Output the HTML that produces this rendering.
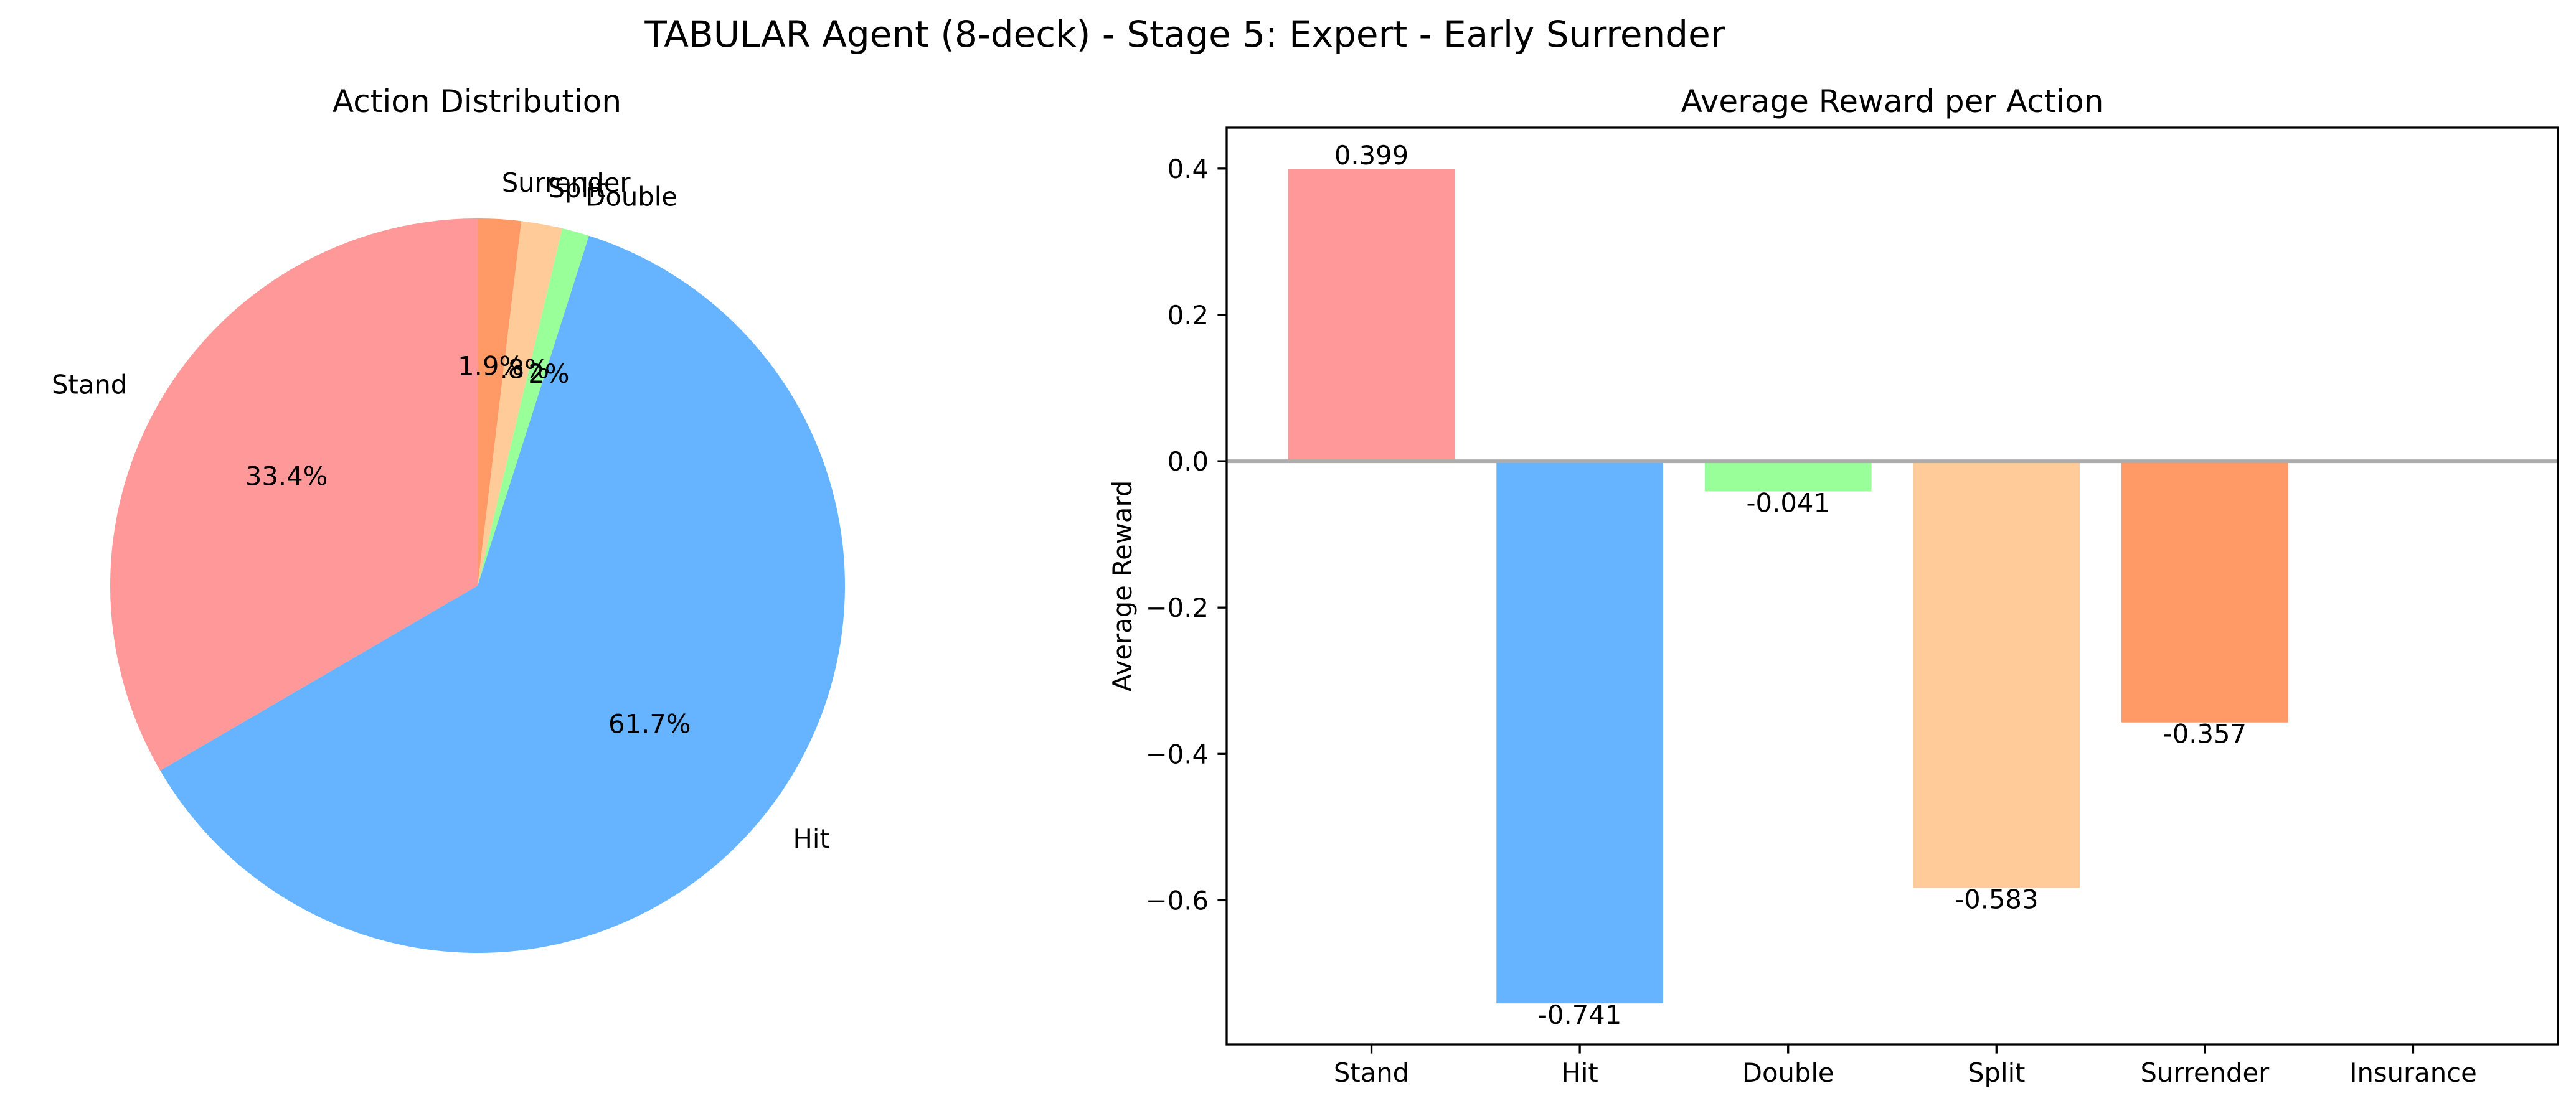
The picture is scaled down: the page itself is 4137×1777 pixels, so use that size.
<!DOCTYPE html>
<html><head><meta charset="utf-8">
<style>
html,body{margin:0;padding:0;background:#fff;}
svg{display:block;font-family:"DejaVu Sans","Liberation Sans",sans-serif;}
</style></head>
<body>
<svg id="fig" width="4137" height="1777" viewBox="0 0 4137 1777" xmlns="http://www.w3.org/2000/svg">
<rect width="4137" height="1777" fill="#fff"/>
<text x="1903" y="75" font-size="58" text-anchor="middle">TABULAR Agent (8-deck) - Stage 5: Expert - Early Surrender</text>
<text x="766" y="180" font-size="50" text-anchor="middle">Action Distribution</text>
<text x="3039" y="180" font-size="50" text-anchor="middle">Average Reward per Action</text>
<g id="pie"></g>
<g id="bars"></g>
</svg>
<script>
const pieLabels = ["Stand","Hit","Double","Split","Surrender"];
const pieValues = [33.4, 61.7, 1.2, 1.8, 1.9];
const pieColors = ["#ff9999","#66b3ff","#99ff99","#ffcc99","#ff9966"];

const barCategories = ["Stand","Hit","Double","Split","Surrender","Insurance"];
const barValues = [0.399, -0.741, -0.041, -0.583, -0.357, 0];
const barValueLabels = ["0.399","-0.741","-0.041","-0.583","-0.357",""];
const barColors = ["#ff9999","#66b3ff","#99ff99","#ffcc99","#ff9966","#c2c2f0"];
const yTicks = [-0.6,-0.4,-0.2,0.0,0.2,0.4];
const yTickLabels = ["\u22120.6","\u22120.4","\u22120.2","0.0","0.2","0.4"];

const NS="http://www.w3.org/2000/svg";
function mk(tag, attrs, parent){const e=document.createElementNS(NS,tag);for(const k in attrs)e.setAttribute(k,attrs[k]);parent.appendChild(e);return e;}

// Pie
const pie=document.getElementById('pie');
const cx=767, cy=941, R=590;
const total=pieValues.reduce((a,b)=>a+b,0);
let ang=90;
pieValues.forEach((v,i)=>{
  const span=v/total*360;
  const a0=ang*Math.PI/180, a1=(ang+span)*Math.PI/180;
  const x0=cx+R*Math.cos(a0), y0=cy-R*Math.sin(a0);
  const x1=cx+R*Math.cos(a1), y1=cy-R*Math.sin(a1);
  const large=span>180?1:0;
  const p=mk('path',{d:`M${cx},${cy} L${x0},${y0} A${R},${R} 0 ${large} 0 ${x1},${y1} Z`,fill:pieColors[i]},pie);
  
  
  const mid=(ang+span/2)*Math.PI/180;
  const lx=cx+1.1*R*Math.cos(mid), ly=cy-1.1*R*Math.sin(mid);
  const t=mk('text',{x:lx,y:ly+15,'font-size':41.7,'text-anchor':Math.cos(mid)>=0?'start':'end'},pie);
  t.textContent=pieLabels[i];
  
  
  const px=cx+0.6*R*Math.cos(mid), py=cy-0.6*R*Math.sin(mid);
  const pt=mk('text',{x:px,y:py+15,'font-size':41.7,'text-anchor':'middle'},pie);
  pt.textContent=v.toFixed(1)+'%';
  
  
  ang+=span;
});

// Bars
const bars=document.getElementById('bars');
const L=1970, Rt=4108, T=205, B=1678;
const xmin=-0.695, xmax=barCategories.length-1+0.695, ymin=-0.797, ymax=0.456;
const X=v=>L+(v-xmin)/(xmax-xmin)*(Rt-L);
const Y=v=>T+(ymax-v)/(ymax-ymin)*(B-T);
const bw=0.8;
barValues.forEach((v,i)=>{
  const y0=Y(Math.max(v,0)), y1=Y(Math.min(v,0));
  const r=mk('rect',{x:X(i-bw/2),y:y0,width:X(i+bw/2)-X(i-bw/2),height:Math.max(0,y1-y0),fill:barColors[i]},bars);
  
  
  if(barValueLabels[i]){
    const t=mk('text',{x:X(i),y:v>=0?Y(v)-8:Y(v)+33,'font-size':41.7,'text-anchor':'middle'},bars);
    t.textContent=barValueLabels[i];
    
    
  }
});
const zl=mk('line',{x1:L,x2:Rt,y1:Y(0),y2:Y(0),stroke:'#adadad','stroke-width':6},bars);


const frame=mk('rect',{x:L,y:T,width:Rt-L,height:B-T,fill:'none',stroke:'#000','stroke-width':3.3},bars);


yTicks.forEach((v,i)=>{
  const tk=mk('line',{x1:L-14.6,x2:L,y1:Y(v),y2:Y(v),stroke:'#000','stroke-width':3.3},bars);
  
  
  const t=mk('text',{x:L-29,y:Y(v)+15,'font-size':41.7,'text-anchor':'end'},bars);
  t.textContent=yTickLabels[i];
  
  
});
barCategories.forEach((c,i)=>{
  const tk=mk('line',{x1:X(i),x2:X(i),y1:B,y2:B+14.6,stroke:'#000','stroke-width':3.3},bars);
  
  
  const t=mk('text',{x:X(i),y:B+60,'font-size':41.7,'text-anchor':'middle'},bars);
  t.textContent=c;
  
  
});
const yl=mk('text',{x:0,y:0,'font-size':41.7,'text-anchor':'middle',transform:`translate(1817,${(T+B)/2}) rotate(-90)`},bars);
yl.textContent='Average Reward';


</script>
</body></html>
